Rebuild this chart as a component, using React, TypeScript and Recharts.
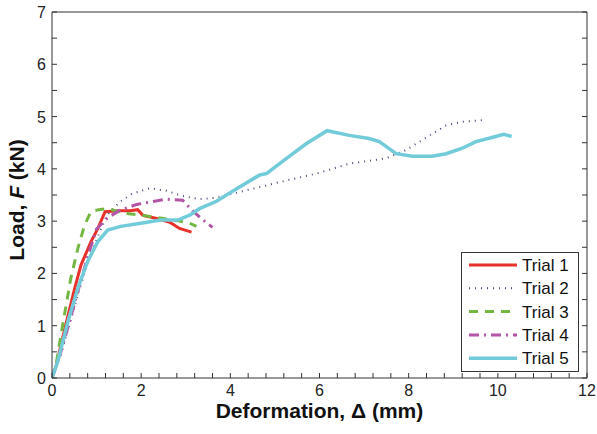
import React from 'react'
import { LineChart, Line, XAxis, YAxis, Legend } from 'recharts'

// deformation (mm) / load (kN), one pair of arrays per trial
const t1Def = [0, 0.1, 0.2, 0.36, 0.51, 0.65, 0.87, 1.03, 1.19, 1.5, 1.75, 1.92, 2.04, 2.35, 2.64, 2.86, 3.13]
const t1Load = [0, 0.25, 0.63, 1.2, 1.72, 2.16, 2.6, 2.86, 3.18, 3.2, 3.2, 3.22, 3.11, 3.05, 2.98, 2.86, 2.79]

const t2Def = [0, 0.2, 0.4, 0.6, 0.8, 1.0, 1.23, 1.52, 1.81, 2.19, 2.57, 2.93, 3.31, 3.69, 4.27, 5.17, 5.93, 6.67, 7.49, 7.94, 8.3, 8.84, 9.19, 9.64]
const t2Load = [0, 0.45, 1.05, 1.65, 2.2, 2.65, 3.11, 3.37, 3.53, 3.63, 3.58, 3.48, 3.42, 3.45, 3.57, 3.76, 3.91, 4.1, 4.2, 4.36, 4.55, 4.83, 4.9, 4.93]

const t3Def = [0, 0.1, 0.2, 0.42, 0.58, 0.73, 0.87, 1.05, 1.25, 1.63, 2.04, 2.5, 2.86, 3.09, 3.24]
const t3Load = [0, 0.3, 0.82, 1.9, 2.48, 2.92, 3.18, 3.22, 3.24, 3.15, 3.11, 3.05, 3.0, 2.96, 2.9]

const t4Def = [0, 0.2, 0.4, 0.6, 0.8, 1.0, 1.23, 1.5, 1.9, 2.3, 2.57, 2.93, 3.15, 3.35, 3.6]
const t4Load = [0, 0.5, 1.1, 1.72, 2.32, 2.85, 3.05, 3.2, 3.32, 3.38, 3.42, 3.4, 3.2, 3.05, 2.88]

const t5Def = [0, 0.13, 0.36, 0.58, 0.8, 1.03, 1.25, 1.54, 1.99, 2.44, 2.82, 3.1, 3.31, 3.69, 4.05, 4.65, 4.81, 5.26, 5.7, 6.17, 6.67, 7.11, 7.34, 7.72, 8.08, 8.52, 8.84, 9.19, 9.51, 9.87, 10.13, 10.31]
const t5Load = [0, 0.32, 1.09, 1.72, 2.23, 2.61, 2.83, 2.9, 2.96, 3.02, 3.02, 3.12, 3.24, 3.38, 3.57, 3.88, 3.91, 4.2, 4.48, 4.73, 4.64, 4.58, 4.52, 4.29, 4.24, 4.24, 4.29, 4.39, 4.52, 4.6, 4.66, 4.62]

const trialNames = ['Trial 1', 'Trial 2', 'Trial 3', 'Trial 4', 'Trial 5']

// axis ticks (minor ticks everywhere, labels only on the majors)
const xTicks = Array.from({ length: 31 }, (_, i) => +(i * 0.4).toFixed(1))
const yTicks = Array.from({ length: 15 }, (_, i) => i * 0.5)

const FONT = '"Liberation Sans", Arial, sans-serif'
const AXIS = '#333'

const zip = (d: number[], f: number[]) => d.map((v, i) => ({ d: v, f: f[i] }))

const series = [
  { name: trialNames[0], data: zip(t1Def, t1Load), color: '#e8312a', width: 3, dash: undefined },
  { name: trialNames[1], data: zip(t2Def, t2Load), color: '#4b4b7d', width: 2, dash: '1 5' },
  { name: trialNames[2], data: zip(t3Def, t3Load), color: '#74b843', width: 3, dash: '9 7' },
  { name: trialNames[3], data: zip(t4Def, t4Load), color: '#b255a5', width: 3, dash: '10 5 2 5' },
  { name: trialNames[4], data: zip(t5Def, t5Load), color: '#72cbd9', width: 3.5, dash: undefined },
]

const isMult = (v: number, m: number) => Math.abs(v / m - Math.round(v / m)) < 1e-6

const BottomTick = ({ x, y, payload }: any) => (
  <g>
    <line x1={x} y1={y} x2={x} y2={y - 5} stroke={AXIS} />
    {isMult(payload.value, 2) && (
      <text x={x} y={y + 18} textAnchor="middle" fontSize={16} fontFamily={FONT} fill="#222">
        {Math.round(payload.value)}
      </text>
    )}
  </g>
)

const TopTick = ({ x, y }: any) => <line x1={x} y1={y} x2={x} y2={y + 5} stroke={AXIS} />

const LeftTick = ({ x, y, payload }: any) => (
  <g>
    <line x1={x} y1={y} x2={x + 5} y2={y} stroke={AXIS} />
    {isMult(payload.value, 1) && (
      <text x={x - 6} y={y + 6} textAnchor="end" fontSize={16} fontFamily={FONT} fill="#222">
        {Math.round(payload.value)}
      </text>
    )}
  </g>
)

const RightTick = ({ x, y }: any) => <line x1={x} y1={y} x2={x - 5} y2={y} stroke={AXIS} />

const YTitle = ({ viewBox }: any) => {
  const cx = viewBox.x - 35
  const cy = viewBox.y + viewBox.height / 2 + 5
  return (
    <text
      x={cx}
      y={cy}
      transform={`rotate(-90, ${cx}, ${cy})`}
      textAnchor="middle"
      dominantBaseline="central"
      fontSize={21}
      fontWeight="bold"
      fontFamily={FONT}
      fill="#111"
    >
      Load, <tspan fontStyle="italic">F</tspan> (kN)
    </text>
  )
}

const XTitle = ({ viewBox }: any) => (
  <text
    x={viewBox.x + viewBox.width / 2}
    y={viewBox.y + 40}
    textAnchor="middle"
    fontSize={21}
    fontWeight="bold"
    fontFamily={FONT}
    fill="#111"
  >
    Deformation, Δ (mm)
  </text>
)

const LegendBox = () => (
  <svg width={118} height={120} style={{ display: 'block' }}>
    <rect x={0.5} y={0.5} width={117} height={119} fill="#fff" stroke={AXIS} />
    {series.map((s, i) => {
      const cy = 13 + i * 23.3
      return (
        <g key={s.name}>
          <line x1={8} y1={cy} x2={56} y2={cy} stroke={s.color} strokeWidth={s.width} strokeDasharray={s.dash} />
          <text x={61} y={cy + 6} fontSize={17} fontFamily={FONT} fill="#111">
            {s.name}
          </text>
        </g>
      )
    })}
  </svg>
)

export default function App() {
  return (
    <div style={{ position: 'absolute', left: 0, top: 0, background: '#fff' }}>
      <LineChart width={597} height={434} margin={{ top: 11, right: 9, bottom: 55, left: 51 }}>
        <XAxis
          dataKey="d"
          type="number"
          domain={[0, 12]}
          ticks={xTicks}
          interval={0}
          height={1}
          tickSize={0}
          tickMargin={0}
          tickLine={false}
          tick={<BottomTick />}
          stroke={AXIS}
          allowDataOverflow
          label={{ content: XTitle }}
        />
        <XAxis
          xAxisId="top"
          orientation="top"
          type="number"
          domain={[0, 12]}
          ticks={xTicks}
          interval={0}
          height={1}
          tickSize={0}
          tickMargin={0}
          tickLine={false}
          tick={<TopTick />}
          stroke={AXIS}
          allowDataOverflow
        />
        <YAxis
          type="number"
          domain={[0, 7]}
          ticks={yTicks}
          interval={0}
          width={1}
          tickSize={0}
          tickMargin={0}
          tickLine={false}
          tick={<LeftTick />}
          stroke={AXIS}
          allowDataOverflow
          label={{ content: YTitle }}
        />
        <YAxis
          yAxisId="right"
          orientation="right"
          type="number"
          domain={[0, 7]}
          ticks={yTicks}
          interval={0}
          width={1}
          tickSize={0}
          tickMargin={0}
          tickLine={false}
          tick={<RightTick />}
          stroke={AXIS}
          allowDataOverflow
        />
        {series.map((s) => (
          <Line
            key={s.name}
            name={s.name}
            data={s.data}
            dataKey="f"
            type="linear"
            stroke={s.color}
            strokeWidth={s.width}
            strokeDasharray={s.dash}
            dot={false}
            activeDot={false}
            isAnimationActive={false}
          />
        ))}
        <Legend
          layout="vertical"
          align="center"
          verticalAlign="middle"
          content={<LegendBox />}
          wrapperStyle={{ left: 461, top: 252, width: 118, height: 120 }}
        />
      </LineChart>
    </div>
  )
}
